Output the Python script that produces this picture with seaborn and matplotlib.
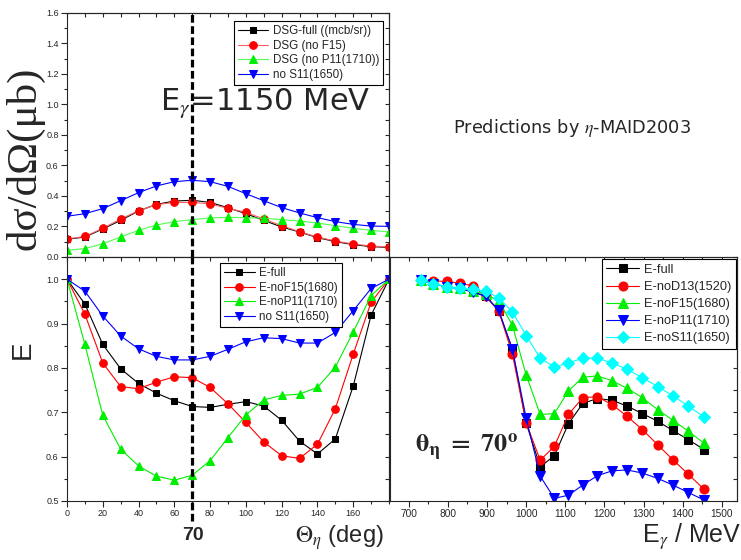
import matplotlib
matplotlib.use("Agg")
import matplotlib.pyplot as plt
import seaborn as sns
from matplotlib.ticker import MultipleLocator, NullFormatter, FixedLocator

# ---------------- data ----------------
theta = [0, 10, 20, 30, 40, 50, 60, 70, 80, 90, 100, 110, 120, 130, 140, 150, 160, 170, 180]
theta_ticks = [0, 20, 40, 60, 80, 100, 120, 140, 160]
theta_cut = 70

dsg_full = [0.116, 0.131, 0.184, 0.240, 0.302, 0.345, 0.367, 0.372, 0.358, 0.323, 0.284,
            0.240, 0.197, 0.164, 0.127, 0.101, 0.081, 0.068, 0.063]
dsg_noF15 = [0.118, 0.135, 0.188, 0.249, 0.304, 0.343, 0.358, 0.358, 0.348, 0.319, 0.293,
             0.249, 0.205, 0.166, 0.131, 0.105, 0.085, 0.072, 0.066]
dsg_noP11 = [0.044, 0.055, 0.087, 0.131, 0.175, 0.210, 0.232, 0.245, 0.256, 0.260, 0.258,
             0.254, 0.245, 0.236, 0.223, 0.205, 0.188, 0.175, 0.164]
dsg_noS11 = [0.267, 0.284, 0.317, 0.369, 0.422, 0.466, 0.494, 0.503, 0.494, 0.463, 0.415,
             0.369, 0.324, 0.289, 0.258, 0.232, 0.214, 0.203, 0.201]

e_full = [1.0, 0.944, 0.853, 0.798, 0.765, 0.743, 0.726, 0.713, 0.711, 0.718, 0.724,
          0.714, 0.682, 0.635, 0.606, 0.640, 0.759, 0.919, 1.0]
e_noF15 = [1.0, 0.921, 0.811, 0.758, 0.753, 0.768, 0.780, 0.778, 0.756, 0.719, 0.677,
           0.633, 0.602, 0.596, 0.628, 0.708, 0.831, 0.948, 1.0]
e_noP11 = [1.0, 0.853, 0.693, 0.617, 0.579, 0.556, 0.547, 0.558, 0.591, 0.643, 0.694,
           0.728, 0.738, 0.741, 0.756, 0.802, 0.881, 0.963, 1.0]
e_noS11 = [1.0, 0.973, 0.917, 0.872, 0.843, 0.826, 0.818, 0.818, 0.826, 0.842, 0.859,
           0.868, 0.866, 0.856, 0.856, 0.880, 0.929, 0.979, 1.0]

energy = [730, 763, 797, 830, 863, 897, 930, 965, 1000, 1036, 1072, 1108, 1145, 1182,
          1220, 1258, 1297, 1336, 1375, 1415, 1455]
ee_full = [0.998, 0.989, 0.983, 0.979, 0.972, 0.962, 0.928, 0.841, 0.676, 0.577, 0.602,
           0.674, 0.720, 0.731, 0.727, 0.714, 0.697, 0.680, 0.659, 0.638, 0.616]
ee_noD13 = [0.998, 0.996, 0.995, 0.991, 0.985, 0.962, 0.928, 0.831, 0.676, 0.592, 0.623,
            0.695, 0.733, 0.735, 0.717, 0.691, 0.661, 0.627, 0.593, 0.560, 0.526]
ee_noF15 = [0.998, 0.989, 0.983, 0.979, 0.973, 0.966, 0.951, 0.896, 0.784, 0.695, 0.697,
            0.748, 0.779, 0.782, 0.771, 0.754, 0.733, 0.706, 0.682, 0.657, 0.630]
ee_noP11 = [0.998, 0.989, 0.983, 0.979, 0.971, 0.961, 0.930, 0.842, 0.687, 0.556, 0.506,
            0.513, 0.536, 0.557, 0.568, 0.570, 0.563, 0.551, 0.536, 0.519, 0.502]
ee_noS11 = [0.998, 0.989, 0.983, 0.979, 0.977, 0.973, 0.958, 0.926, 0.873, 0.822, 0.802,
            0.811, 0.822, 0.822, 0.811, 0.797, 0.778, 0.758, 0.737, 0.714, 0.689]

top_labels = ["DSG-full ((mcb/sr))", "DSG (no F15)", "DSG (no P11(1710))", "no S11(1650)"]
bl_labels = ["E-full", "E-noF15(1680)", "E-noP11(1710)", "no S11(1650)"]
br_labels = ["E-full", "E-noD13(1520)", "E-noF15(1680)", "E-noP11(1710)", "E-noS11(1650)"]

# ---------------- style ----------------
sns.set_style("ticks")
plt.rcParams["font.family"] = ["Liberation Sans", "DejaVu Sans"]
plt.rcParams["mathtext.fontset"] = "stix"
plt.rcParams["axes.linewidth"] = 0.8

W, H = 741, 560
fig = plt.figure(figsize=(W / 100, H / 100), dpi=100)


def box(x0, y0, x1, y1):
    return [x0 / W, 1 - y1 / H, (x1 - x0) / W, (y1 - y0) / H]


ax_top = fig.add_axes(box(67, 13, 389, 257))
ax_bl = fig.add_axes(box(67, 257, 389, 501))
ax_br = fig.add_axes(box(390, 257, 737, 501))

lw = 0.8


def draw(ax, x, y, color, marker, ms, label, lcolor=None):
    sns.lineplot(x=x, y=y, ax=ax, color=lcolor or color, marker=marker, markersize=ms,
                 markerfacecolor=color, markeredgecolor=color, linewidth=lw,
                 label=label, legend=False)


# top panel
draw(ax_top, theta, dsg_full, "black", "s", 5, top_labels[0])
draw(ax_top, theta, dsg_noF15, "#ff0000", "o", 5.5, top_labels[1], "#ff6060")
draw(ax_top, theta, dsg_noP11, "#00ee00", "^", 6, top_labels[2], "#50ff50")
draw(ax_top, theta, dsg_noS11, "#0000ff", "v", 6, top_labels[3])

# bottom-left
draw(ax_bl, theta, e_full, "black", "s", 5, bl_labels[0])
draw(ax_bl, theta, e_noF15, "#ff0000", "o", 5.5, bl_labels[1])
draw(ax_bl, theta, e_noP11, "#00ee00", "^", 6, bl_labels[2])
draw(ax_bl, theta, e_noS11, "#0000ff", "v", 6, bl_labels[3])

# bottom-right
draw(ax_br, energy, ee_full, "black", "s", 5.5, br_labels[0])
draw(ax_br, energy, ee_noD13, "#ff0000", "o", 6.5, br_labels[1])
draw(ax_br, energy, ee_noF15, "#00ee00", "^", 7, br_labels[2])
draw(ax_br, energy, ee_noP11, "#0000ff", "v", 7, br_labels[3])
draw(ax_br, energy, ee_noS11, "#00ffff", "D", 6, br_labels[4])

# limits and ticks
for ax in (ax_top, ax_bl):
    ax.set_xlim(0, 180)
    ax.xaxis.set_major_locator(FixedLocator(theta_ticks))
    ax.xaxis.set_minor_locator(MultipleLocator(10))
ax_top.set_ylim(0, 1.6)
ax_top.yaxis.set_major_locator(MultipleLocator(0.2))
ax_top.yaxis.set_minor_locator(MultipleLocator(0.1))
ax_top.tick_params(axis="x", which="both", labelbottom=False)
ax_bl.set_ylim(0.5, 1.05)
ax_bl.yaxis.set_major_locator(MultipleLocator(0.1))
ax_bl.yaxis.set_minor_locator(MultipleLocator(0.05))
ax_br.set_ylim(0.5, 1.05)
ax_br.set_xlim(652, 1539)
ax_br.xaxis.set_major_locator(MultipleLocator(100))
ax_br.xaxis.set_minor_locator(MultipleLocator(50))
ax_br.tick_params(axis="y", which="both", left=False, labelleft=False)

for ax, fs in ((ax_top, 6.5), (ax_bl, 6.5), (ax_br, 7.3)):
    ax.tick_params(which="major", direction="out", length=4, width=0.8, labelsize=fs, pad=2)
    ax.tick_params(which="minor", direction="out", length=2.5, width=0.8)
    ax.set_xlabel("")
    ax.set_ylabel("")
    for s in ax.spines.values():
        s.set_visible(True)
        s.set_linewidth(0.8)

# mirrored inward ticks (top / right)
ident = (lambda v: v, lambda v: v)
for ax, xstep, ystep in ((ax_top, 10, 0.1), (ax_bl, 10, 0.05), (ax_br, 50, 0.05)):
    sx = ax.secondary_xaxis("top", functions=ident)
    sx.xaxis.set_major_locator(MultipleLocator(xstep))
    sx.xaxis.set_major_formatter(NullFormatter())
    sx.tick_params(direction="in", length=3, width=0.8)
    sy = ax.secondary_yaxis("right", functions=ident)
    sy.yaxis.set_major_locator(MultipleLocator(ystep))
    sy.yaxis.set_major_formatter(NullFormatter())
    sy.tick_params(direction="in", length=3, width=0.8)

# dashed vertical line at theta = 70
dash_kw = dict(color="black", linewidth=2.3, linestyle=(0, (2.4, 1.1)), zorder=5)
ax_top.axvline(theta_cut, **dash_kw)
ax_bl.axvline(theta_cut, ymin=-0.08, ymax=1, clip_on=False, **dash_kw)

# legends
leg_kw = dict(frameon=True, fancybox=False, framealpha=1, edgecolor="black",
              handlelength=2.6, handletextpad=0.4, borderpad=0.35, labelspacing=0.22,
              borderaxespad=0)
lg = ax_top.legend(loc="upper right", bbox_to_anchor=(0.982, 0.967), fontsize=8.4, **leg_kw)
lg.get_frame().set_linewidth(0.8)
lg = ax_bl.legend(loc="upper right", bbox_to_anchor=(0.854, 0.975), fontsize=8.4, **leg_kw)
lg.get_frame().set_linewidth(0.8)
lg = ax_br.legend(loc="upper right", bbox_to_anchor=(0.998, 0.99), fontsize=9.2,
                  **{**leg_kw, "labelspacing": 0.4})
lg.get_frame().set_linewidth(0.8)


def ft(x, y, s, **kw):
    fig.text(x / W, 1 - y / H, s, **kw)


ft(25, 158, "dσ/dΩ(μb)", rotation=90, ha="center", va="center", fontsize=31,
   family=["Liberation Serif", "DejaVu Serif"])
ft(23, 350, "E", rotation=90, ha="center", va="center", fontsize=20)
ft(160, 104, r"E$_{\gamma}$=1150 MeV", ha="left", va="center", fontsize=22,
   family=["DejaVu Sans"])
ft(453, 128, r"Predictions by $\eta$-MAID2003", ha="left", va="center", fontsize=12.8,
   family=["DejaVu Sans"])
ft(415, 447, r"$\mathbf{\theta_{\eta}\ =\ 70^{o}}$", ha="left", va="center", fontsize=19)
ft(193, 535, "70", ha="center", va="center", fontsize=14, fontweight="bold")
ft(384, 538, r"$\Theta_{\eta}$ (deg)", ha="right", va="center", fontsize=17)
ft(741, 537, r"E$_{\gamma}$ / MeV", ha="right", va="center", fontsize=18)

fig.savefig("out.png", dpi=100)
